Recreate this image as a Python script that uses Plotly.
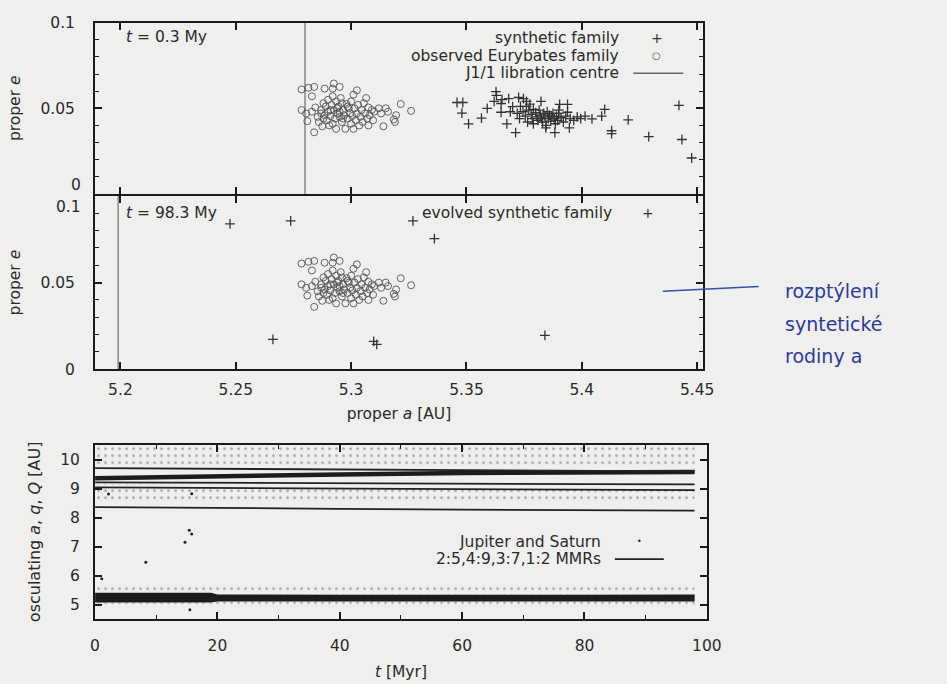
import plotly.graph_objects as go

# ---------------- data: proper elements ----------------
# observed Eurybates family (same in both upper panels)
obs_a = [5.2785, 5.2815, 5.2840, 5.2830, 5.2885, 5.2925, 5.2920, 5.2950, 5.3025, 5.3010,
         5.3065, 5.2785, 5.2805, 5.2810, 5.2840, 5.3075, 5.3120, 5.3150, 5.3215, 5.3260,
         5.3195, 5.3190, 5.3140, 5.3100, 5.3130, 5.3160, 5.3185,
         5.2830, 5.2845, 5.2855, 5.2860, 5.2870, 5.2875, 5.2880, 5.2885, 5.2890, 5.2895,
         5.2900, 5.2900, 5.2905, 5.2910, 5.2915, 5.2920, 5.2925, 5.2930, 5.2935, 5.2935,
         5.2940, 5.2945, 5.2950, 5.2955, 5.2960, 5.2960, 5.2965, 5.2970, 5.2975, 5.2980,
         5.2985, 5.2990, 5.2995, 5.3000, 5.3000, 5.3005, 5.3010, 5.3015, 5.3020, 5.3025,
         5.3030, 5.3035, 5.3040, 5.3045, 5.3050, 5.3055, 5.3060, 5.3070, 5.3075, 5.3080,
         5.3090, 5.3095, 5.2880, 5.2870, 5.2920, 5.2950, 5.2985, 5.2940, 5.2910, 5.2965]
obs_e = [0.0610, 0.0620, 0.0625, 0.0570, 0.0615, 0.0645, 0.0615, 0.0625, 0.0605, 0.0580,
         0.0560, 0.0490, 0.0470, 0.0425, 0.0360, 0.0400, 0.0500, 0.0500, 0.0525, 0.0485,
         0.0460, 0.0420, 0.0395, 0.0480, 0.0470, 0.0480, 0.0435,
         0.0480, 0.0505, 0.0450, 0.0420, 0.0490, 0.0395, 0.0530, 0.0460, 0.0510, 0.0430,
         0.0480, 0.0550, 0.0400, 0.0455, 0.0520, 0.0570, 0.0490, 0.0440, 0.0540, 0.0380,
         0.0470, 0.0510, 0.0450, 0.0560, 0.0530, 0.0420, 0.0490, 0.0460, 0.0380, 0.0525,
         0.0440, 0.0500, 0.0470, 0.0540, 0.0410, 0.0455, 0.0380, 0.0500, 0.0430, 0.0470,
         0.0520, 0.0400, 0.0450, 0.0490, 0.0420, 0.0530, 0.0470, 0.0440, 0.0505, 0.0460,
         0.0490, 0.0430, 0.0440, 0.0470, 0.0410, 0.0480, 0.0510, 0.0500, 0.0490, 0.0440]

# synthetic family at t = 0.3 My
syn_a = [5.3459, 5.3484, 5.3480, 5.3509, 5.3565, 5.3590, 5.3628, 5.3620, 5.3650, 5.3654,
         5.3683, 5.3650, 5.3675, 5.3713, 5.3726, 5.3747, 5.3734, 5.3760, 5.3790, 5.3823,
         5.3904, 5.3938, 5.3900, 5.3938, 5.3883, 5.3844, 5.3946, 5.4014, 5.4044, 5.4086,
         5.4099, 5.4129, 5.4129, 5.4201, 5.4290, 5.4421, 5.4434, 5.4476,
         5.3720, 5.3730, 5.3745, 5.3755, 5.3765, 5.3770, 5.3780, 5.3785, 5.3790, 5.3800,
         5.3805, 5.3810, 5.3815, 5.3820, 5.3825, 5.3830, 5.3835, 5.3840, 5.3845, 5.3850,
         5.3855, 5.3860, 5.3865, 5.3870, 5.3875, 5.3880, 5.3885, 5.3890, 5.3895, 5.3900,
         5.3910, 5.3920, 5.3930, 5.3950, 5.3965, 5.3980, 5.3995, 5.3760, 5.3775, 5.3700,
         5.3690, 5.3630]
syn_e = [0.0534, 0.0534, 0.0472, 0.0409, 0.0443, 0.0500, 0.0597, 0.0540, 0.0528, 0.0551,
         0.0557, 0.0477, 0.0409, 0.0358, 0.0563, 0.0557, 0.0511, 0.0511, 0.0494, 0.0540,
         0.0523, 0.0523, 0.0489, 0.0477, 0.0358, 0.0386, 0.0386, 0.0455, 0.0438, 0.0455,
         0.0494, 0.0369, 0.0352, 0.0432, 0.0335, 0.0517, 0.0318, 0.0210,
         0.0470, 0.0440, 0.0480, 0.0455, 0.0420, 0.0490, 0.0465, 0.0440, 0.0410, 0.0475,
         0.0450, 0.0430, 0.0490, 0.0460, 0.0440, 0.0420, 0.0470, 0.0450, 0.0400, 0.0480,
         0.0440, 0.0460, 0.0425, 0.0450, 0.0470, 0.0440, 0.0410, 0.0455, 0.0430, 0.0470,
         0.0445, 0.0420, 0.0455, 0.0440, 0.0430, 0.0450, 0.0440, 0.0540, 0.0525, 0.0510,
         0.0480, 0.0575]

# evolved synthetic family at t = 98.3 My
evo_a = [5.2475, 5.2738, 5.3268, 5.2661, 5.3098, 5.3111, 5.3361, 5.3840]
evo_e = [0.0839, 0.0856, 0.0856, 0.0172, 0.0161, 0.0144, 0.0754, 0.0195]

# J1/1 libration centre (top panel, middle panel)
libration_a = [5.280, 5.199]
e_span = [0.0, 0.1]

# ---------------- data: osculating elements vs time ----------------
t_nodes = [0, 10, 19, 20, 40, 60, 80, 98]
saturn_a = [9.36, 9.40, 9.43, 9.44, 9.49, 9.54, 9.57, 9.58]
saturn_Q_hi = [10.45, 10.45, 10.45, 10.45, 10.45, 10.45, 10.45, 10.45]
saturn_Q_lo = [9.76, 9.76, 9.76, 9.76, 9.76, 9.78, 9.80, 9.80]
saturn_q_hi = [9.15, 9.14, 9.13, 9.13, 9.10, 9.08, 9.06, 9.05]
saturn_q_lo = [8.55, 8.55, 8.55, 8.55, 8.55, 8.55, 8.55, 8.55]
jupiter_band_hi = [5.42, 5.42, 5.42, 5.36, 5.35, 5.35, 5.35, 5.36]
jupiter_band_lo = [5.08, 5.08, 5.08, 5.12, 5.12, 5.12, 5.12, 5.12]
jupiter_Q_hi = [5.66, 5.66, 5.66, 5.62, 5.62, 5.62, 5.62, 5.62]
jupiter_q_lo = [4.92, 4.92, 4.92, 4.95, 4.95, 4.95, 4.95, 4.95]
mmr_t = [0, 20, 40, 60, 80, 98]
mmr_2_5 = [9.71, 9.69, 9.66, 9.63, 9.61, 9.60]
mmr_4_9 = [9.22, 9.20, 9.18, 9.17, 9.16, 9.15]
mmr_3_7 = [9.05, 9.03, 9.00, 8.98, 8.96, 8.95]
mmr_1_2 = [8.37, 8.35, 8.31, 8.28, 8.26, 8.25]
iso_t = [1.1, 2.2, 8.3, 14.7, 15.4, 15.8, 15.8, 15.5]
iso_y = [5.90, 8.82, 6.47, 7.16, 7.57, 7.44, 8.83, 4.83]

# ---------------- styling ----------------
W, H = 947, 684
BG = "#efefed"
INK = "#2a2a2a"
FONT = "DejaVu Sans, Liberation Sans, sans-serif"
FS = 15.5

def px(x):
    return x / W

def py(y):
    return 1 - y / H

fig = go.Figure()

plus_marker = dict(symbol="cross-thin", size=7, color="#333", line=dict(width=1.3, color="#333"))
circ_marker = dict(symbol="circle-open", size=7, color="#555", line=dict(width=0.9, color="#555"))

# top panel
fig.add_trace(go.Scatter(x=[libration_a[0]] * 2, y=e_span, mode="lines",
                         line=dict(color="#777", width=1.3), xaxis="x", yaxis="y"))
fig.add_trace(go.Scatter(x=obs_a, y=obs_e, mode="markers", marker=circ_marker,
                         xaxis="x", yaxis="y"))
fig.add_trace(go.Scatter(x=syn_a, y=syn_e, mode="markers", marker=plus_marker,
                         xaxis="x", yaxis="y"))
# middle panel
fig.add_trace(go.Scatter(x=[libration_a[1]] * 2, y=e_span, mode="lines",
                         line=dict(color="#777", width=1.3), xaxis="x2", yaxis="y2"))
fig.add_trace(go.Scatter(x=obs_a, y=obs_e, mode="markers", marker=circ_marker,
                         xaxis="x2", yaxis="y2"))
fig.add_trace(go.Scatter(x=evo_a, y=evo_e, mode="markers", marker=plus_marker,
                         xaxis="x2", yaxis="y2"))

# bottom panel: stippled scatter regions
def stipple(lo, hi):
    fig.add_trace(go.Scatter(
        x=t_nodes + t_nodes[::-1], y=hi + lo[::-1], fill="toself", mode="none",
        fillcolor="rgba(0,0,0,0)",
        fillpattern=dict(shape=".", size=7, solidity=0.12, fgcolor="#555",
                         bgcolor="rgba(0,0,0,0)"),
        xaxis="x3", yaxis="y3", hoverinfo="skip"))

stipple(saturn_Q_lo, saturn_Q_hi)
stipple(saturn_q_lo, saturn_q_hi)
stipple(jupiter_band_hi, jupiter_Q_hi)
stipple(jupiter_q_lo, jupiter_band_lo)

# Jupiter dense band
fig.add_trace(go.Scatter(x=t_nodes + t_nodes[::-1], y=jupiter_band_hi + jupiter_band_lo[::-1],
                         fill="toself", mode="none", fillcolor="#1c1c1c",
                         xaxis="x3", yaxis="y3", hoverinfo="skip"))
# Saturn a band
fig.add_trace(go.Scatter(x=t_nodes, y=saturn_a, mode="lines",
                         line=dict(color="#1c1c1c", width=4.5), xaxis="x3", yaxis="y3"))
# MMR lines
for mmr in (mmr_2_5, mmr_4_9, mmr_3_7, mmr_1_2):
    fig.add_trace(go.Scatter(x=mmr_t, y=mmr, mode="lines",
                             line=dict(color="#222", width=1.8), xaxis="x3", yaxis="y3"))
fig.add_trace(go.Scatter(x=iso_t, y=iso_y, mode="markers",
                         marker=dict(size=3, color="#222"), xaxis="x3", yaxis="y3"))

# ---------------- axes ----------------
def axis_common(standoff):
    return dict(showgrid=False, zeroline=False, showline=True, linecolor="#1a1a1a",
                linewidth=2, mirror="allticks", ticks="inside", ticklen=7, tickwidth=1.5,
                tickcolor="#1a1a1a", tickfont=dict(family=FONT, size=FS, color=INK),
                ticklabelstandoff=standoff)

def minor(d):
    return dict(dtick=d, ticks="inside", ticklen=4, tickcolor="#1a1a1a", tickwidth=1.2)

def ttl(text, standoff, size=FS):
    return dict(text=text, standoff=standoff, font=dict(family=FONT, size=size, color=INK))

xr = [5.189, 5.4525]
xdom = [px(92), px(713)]
a_ticks = [5.2, 5.25, 5.3, 5.35, 5.4, 5.45]
a_labels = ["5.2", "5.25", "5.3", "5.35", "5.4", "5.45"]

layout = dict(
    width=W, height=H, paper_bgcolor=BG, plot_bgcolor=BG, showlegend=False,
    margin=dict(l=0, r=0, t=0, b=0),
    font=dict(family=FONT, size=FS, color=INK),
)
layout["xaxis"] = dict(axis_common(5), domain=xdom, range=xr, anchor="y",
                       tickvals=a_ticks, showticklabels=False)
layout["yaxis"] = dict(axis_common(15), domain=[py(190), py(14)], range=[0, 0.1], anchor="x",
                       tickvals=[0, 0.05, 0.1], ticktext=["", "0.05", "0.1"],
                       minor=minor(0.01), title=ttl("proper <i>e</i>", 16))
layout["xaxis2"] = dict(axis_common(5), domain=xdom, range=xr, anchor="y2",
                        tickvals=a_ticks, ticktext=a_labels,
                        title=ttl("proper <i>a</i> [AU]", 10))
layout["yaxis2"] = dict(axis_common(15), domain=[py(370), py(192)], range=[0, 0.1], anchor="x2",
                        tickvals=[0, 0.05, 0.1], ticktext=["0", "0.05", ""],
                        minor=minor(0.01), title=ttl("proper <i>e</i>", 16))
layout["xaxis3"] = dict(axis_common(12), domain=[px(92), px(717)], range=[0, 100], anchor="y3",
                        tickvals=[0, 20, 40, 60, 80, 100], minor=minor(10),
                        title=ttl("<i>t</i> [Myr]", 12))
layout["yaxis3"] = dict(axis_common(10), domain=[py(626), py(448)], range=[4.53, 10.5], anchor="x3",
                        tickvals=[5, 6, 7, 8, 9, 10],
                        title=ttl("osculating <i>a</i>, <i>q</i>, <i>Q</i> [AU]", 16, 16))
fig.update_layout(layout)

# ---------------- labels & legends (annotations) ----------------
def note(x, y, text, anchor="left", size=FS, color=INK, family=FONT):
    fig.add_annotation(x=px(x), y=py(y), xref="paper", yref="paper", text=text,
                       showarrow=False, xanchor=anchor, yanchor="middle",
                       font=dict(family=family, size=size, color=color))

# shifted tick labels at the shared panel boundary
note(80, 181, "0", "right")
note(80, 203, "0.1", "right")

note(122, 29, "<i>t</i> = 0.3 My")
note(122, 209, "<i>t</i> = 98.3 My")

note(629, 30, "synthetic family", "right")
note(666, 30, "+", "center", size=14, color="#333")
note(629, 48, "observed Eurybates family", "right")
note(666, 48, "○", "center", size=10, color="#555")
note(629, 66, "J1/1 libration centre", "right")
fig.add_shape(type="line", xref="paper", yref="paper", x0=px(642), x1=px(693),
              y0=py(66), y1=py(66), line=dict(color="#666", width=1.3))

note(622, 210, "evolved synthetic family", "right")
note(657, 209, "+", "center", size=14, color="#333")

note(611, 547, "Jupiter and Saturn", "right")
note(648, 547, "•", "center", size=8, color="#222")
note(611, 565, "2:5,4:9,3:7,1:2 MMRs", "right")
fig.add_shape(type="line", xref="paper", yref="paper", x0=px(623), x1=px(673),
              y0=py(565), y1=py(565), line=dict(color="#222", width=1.8))

# handwritten note
fig.add_shape(type="line", xref="paper", yref="paper", x0=px(672), x1=px(770),
              y0=py(290), y1=py(285), line=dict(color="#3a4bb0", width=1.5))
note(795, 290, "rozptýlení", "left", size=19, color="#2b3aa0")
note(795, 323, "syntetické", "left", size=19, color="#2b3aa0")
note(795, 356, "rodiny a", "left", size=19, color="#2b3aa0")

fig.write_html("out.html", config={"displayModeBar": False},
               post_script="document.body.style.margin='0';"
                           "document.body.style.background='" + BG + "';")
